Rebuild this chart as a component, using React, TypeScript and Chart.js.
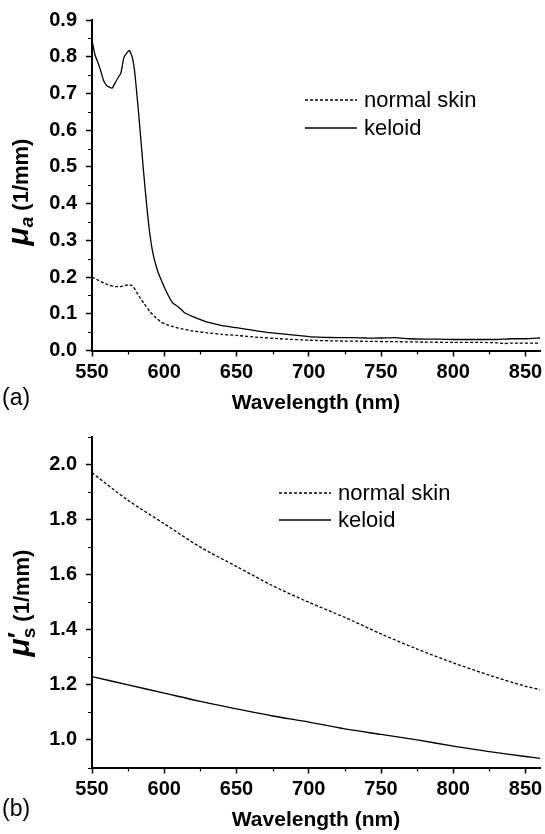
import React, { useEffect, useRef } from "react";
import { Chart, registerables } from "chart.js";

Chart.register(...registerables);

const FONT = "'Liberation Sans', Arial, Helvetica, sans-serif";

// ---------- Panel (a): absorption coefficient ----------
const wlKeloidA = [550, 552, 554, 556, 558, 560, 562, 564, 567, 570, 572, 574, 576, 578, 579.5, 581, 582.5, 584, 585.5, 587, 588.5, 590, 592, 594.5, 597, 602, 606, 610, 614, 620, 625, 630, 640, 650, 660, 670, 680, 690, 700, 710, 720, 730, 740, 750, 760, 770, 780, 790, 800, 810, 820, 830, 835, 840, 850, 860];
const muaKeloid = [0.845, 0.806, 0.785, 0.762, 0.735, 0.722, 0.717, 0.715, 0.736, 0.756, 0.797, 0.81, 0.817, 0.797, 0.76, 0.7, 0.635, 0.565, 0.495, 0.43, 0.37, 0.318, 0.268, 0.228, 0.2, 0.156, 0.129, 0.118, 0.103, 0.092, 0.084, 0.077, 0.068, 0.062, 0.056, 0.05, 0.046, 0.042, 0.038, 0.036, 0.035, 0.035, 0.034, 0.034, 0.035, 0.032, 0.031, 0.031, 0.03, 0.03, 0.03, 0.03, 0.031, 0.032, 0.032, 0.034];
const wlNormalA = [550, 554, 558, 562, 566, 570, 573, 576, 578, 580, 583, 586, 590, 594, 598, 602, 606, 612, 620, 630, 640, 650, 665, 680, 700, 720, 740, 760, 780, 800, 820, 830, 835, 840, 860];
const muaNormal = [0.2, 0.192, 0.184, 0.178, 0.174, 0.174, 0.177, 0.179, 0.176, 0.165, 0.145, 0.128, 0.106, 0.09, 0.077, 0.07, 0.065, 0.059, 0.053, 0.048, 0.044, 0.041, 0.036, 0.032, 0.028, 0.026, 0.025, 0.024, 0.023, 0.022, 0.022, 0.021, 0.019, 0.02, 0.02];

// ---------- Panel (b): reduced scattering coefficient ----------
const wlB = [550, 575, 600, 625, 650, 675, 700, 725, 750, 775, 800, 825, 850, 860];
const musNormal = [1.97, 1.87, 1.785, 1.7, 1.63, 1.56, 1.5, 1.445, 1.385, 1.33, 1.28, 1.235, 1.195, 1.183];
const musKeloid = [1.23, 1.2, 1.17, 1.14, 1.113, 1.087, 1.065, 1.04, 1.02, 1.0, 0.978, 0.958, 0.94, 0.933];

// ---------- Axes / labels ----------
const seriesLabels = ["normal skin", "keloid"];
const xTicks = [550, 600, 650, 700, 750, 800, 850];
const xMinorTicks = [575, 625, 675, 725, 775, 825];
const yTicksA = [0, 0.1, 0.2, 0.3, 0.4, 0.5, 0.6, 0.7, 0.8, 0.9];
const yMinorA = [0.05, 0.15, 0.25, 0.35, 0.45, 0.55, 0.65, 0.75, 0.85];
const yTicksB = [1.0, 1.2, 1.4, 1.6, 1.8, 2.0];
const yMinorB = [0.9, 1.1, 1.3, 1.5, 1.7, 1.9, 2.1];
const xTitle = "Wavelength (nm)";

type Part = { text: string; font: string; dy: number; sup?: { text: string; font: string; dy: number } };

const decorPlugin = {
  id: "decor",
  afterDraw(chart: any, _args: any, opts: any) {
    const ctx: CanvasRenderingContext2D = chart.ctx;
    const xs = chart.scales.x;
    const ys = chart.scales.y;
    ctx.save();
    ctx.strokeStyle = "#000";
    ctx.fillStyle = "#000";
    ctx.lineWidth = 1.2;
    // minor ticks
    ctx.beginPath();
    for (const v of opts.xMinor) {
      const px = Math.round(xs.getPixelForValue(v)) + 0.5;
      ctx.moveTo(px, xs.top);
      ctx.lineTo(px, xs.top + 4);
    }
    for (const v of opts.yMinor) {
      const py = Math.round(ys.getPixelForValue(v)) + 0.5;
      ctx.moveTo(ys.right, py);
      ctx.lineTo(ys.right - 4, py);
    }
    ctx.stroke();

    // legend
    const lg = opts.legend;
    chart.data.datasets.forEach((ds: any, i: number) => {
      const y = lg.y + i * lg.dy;
      ctx.save();
      ctx.lineWidth = ds.borderWidth;
      ctx.setLineDash(ds.borderDash || []);
      ctx.beginPath();
      ctx.moveTo(lg.x1, y);
      ctx.lineTo(lg.x2, y);
      ctx.stroke();
      ctx.restore();
      ctx.font = `22px ${FONT}`;
      ctx.textAlign = "left";
      ctx.textBaseline = "middle";
      ctx.fillText(ds.label, lg.tx, y + 1);
    });

    // y title
    const parts: Part[] = opts.ytitle.parts;
    let total = 0;
    const widths = parts.map((p) => {
      ctx.font = p.font;
      let w = ctx.measureText(p.text).width;
      if (p.sup) {
        ctx.font = p.sup.font;
        w = Math.max(w, ctx.measureText(p.sup.text).width);
      }
      total += w;
      return w;
    });
    ctx.save();
    ctx.translate(opts.ytitle.x, opts.ytitle.y);
    ctx.rotate(-Math.PI / 2);
    ctx.textAlign = "left";
    ctx.textBaseline = "alphabetic";
    let cx = -total / 2;
    parts.forEach((p, i) => {
      ctx.font = p.font;
      ctx.fillText(p.text, cx, p.dy);
      if (p.sup) {
        ctx.font = p.sup.font;
        ctx.fillText(p.sup.text, cx, p.sup.dy);
      }
      cx += widths[i];
    });
    ctx.restore();

    // panel label
    ctx.font = `23px ${FONT}`;
    ctx.textAlign = "left";
    ctx.textBaseline = "middle";
    ctx.fillText(opts.panel, 2, opts.panelY);
    ctx.restore();
  },
};

function makeConfig(panel: "a" | "b"): any {
  const isA = panel === "a";
  const datasets = isA
    ? [
        { label: seriesLabels[0], data: wlNormalA.map((x, i) => ({ x, y: muaNormal[i] })), borderDash: [3, 2] },
        { label: seriesLabels[1], data: wlKeloidA.map((x, i) => ({ x, y: muaKeloid[i] })), borderDash: [] },
      ]
    : [
        { label: seriesLabels[0], data: wlB.map((x, i) => ({ x, y: musNormal[i] })), borderDash: [3, 2] },
        { label: seriesLabels[1], data: wlB.map((x, i) => ({ x, y: musKeloid[i] })), borderDash: [] },
      ];
  const yTicks = isA ? yTicksA : yTicksB;
  const tickFont = { family: FONT, size: 20, weight: "bold" as const };
  return {
    type: "line",
    data: {
      datasets: datasets.map((d) => ({
        ...d,
        borderColor: "#000",
        backgroundColor: "#000",
        borderWidth: 1.3,
        pointRadius: 0,
        fill: false,
        tension: isA ? 0.15 : 0.3,
      })),
    },
    options: {
      responsive: false,
      animation: false,
      events: [],
      layout: { padding: { top: 20, right: 5, left: 0, bottom: 0 } },
      plugins: {
        legend: { display: false },
        tooltip: { enabled: false },
        title: { display: false },
        decor: {
          xMinor: xMinorTicks,
          yMinor: isA ? yMinorA : yMinorB,
          legend: isA
            ? { x1: 305, x2: 357, tx: 364, y: 100, dy: 28 }
            : { x1: 279, x2: 331, tx: 338, y: 76, dy: 27 },
          ytitle: isA
            ? {
                x: 28,
                y: 192,
                parts: [
                  { text: "μ", font: `italic bold 30px ${FONT}`, dy: 0 },
                  { text: "a", font: `italic bold 19px ${FONT}`, dy: 5 },
                  { text: " (1/mm)", font: `bold 22px ${FONT}`, dy: 0 },
                ],
              }
            : {
                x: 29,
                y: 186,
                parts: [
                  { text: "μ", font: `italic bold 30px ${FONT}`, dy: 0 },
                  { text: "s", font: `bold 19px ${FONT}`, dy: 6, sup: { text: "′", font: `bold 26px ${FONT}`, dy: -3 } },
                  { text: " (1/mm)", font: `bold 22px ${FONT}`, dy: 0 },
                ],
              },
          panel: isA ? "(a)" : "(b)",
          panelY: isA ? 399 : 393,
        },
      },
      scales: {
        x: {
          type: "linear",
          min: 550,
          max: 860,
          afterBuildTicks: (s: any) => {
            s.ticks = xTicks.map((v) => ({ value: v }));
          },
          afterFit: (s: any) => {
            s.height = 66.5;
            s.paddingLeft = 0;
            s.paddingRight = 0;
          },
          ticks: {
            font: tickFont,
            color: "#000",
            padding: 4,
            autoSkip: false,
            maxRotation: 0,
            callback: (v: any) => String(v),
          },
          grid: { display: true, drawOnChartArea: false, drawTicks: true, tickLength: 6, tickWidth: 1.5, tickColor: "#000", color: "#000" },
          border: { display: true, color: "#000", width: 2 },
          title: {
            display: true,
            text: xTitle,
            color: "#000",
            font: { family: FONT, size: 21, weight: "bold" },
            padding: { top: 0, bottom: 1 },
          },
        },
        y: {
          type: "linear",
          min: isA ? 0 : 0.9,
          max: isA ? 0.9 : 2.1,
          afterBuildTicks: (s: any) => {
            s.ticks = yTicks.map((v) => ({ value: v }));
          },
          afterFit: (s: any) => {
            s.width = 92;
            s.paddingTop = 0;
            s.paddingBottom = 0;
          },
          ticks: {
            font: tickFont,
            color: "#000",
            padding: 9,
            autoSkip: false,
            callback: (v: any) => Number(v).toFixed(1),
          },
          grid: { display: true, drawOnChartArea: false, drawTicks: true, tickLength: 6, tickWidth: 1.5, tickColor: "#000", color: "#000" },
          border: { display: true, color: "#000", width: 2 },
        },
      },
    },
    plugins: [decorPlugin],
  };
}

function Panel({ panel, top }: { panel: "a" | "b"; top: number }) {
  const ref = useRef<HTMLCanvasElement | null>(null);
  useEffect(() => {
    if (!ref.current) return;
    const chart = new Chart(ref.current, makeConfig(panel));
    return () => chart.destroy();
  }, [panel]);
  return (
    <canvas
      ref={ref}
      width={545}
      height={417}
      style={{ position: "absolute", left: 0, top, width: 545, height: 417, display: "block" }}
    />
  );
}

export default function App() {
  return (
    <div style={{ position: "absolute", left: 0, top: 0, width: 545, height: 834, background: "#fff", overflow: "hidden" }}>
      <Panel panel="a" top={0} />
      <Panel panel="b" top={417} />
    </div>
  );
}
